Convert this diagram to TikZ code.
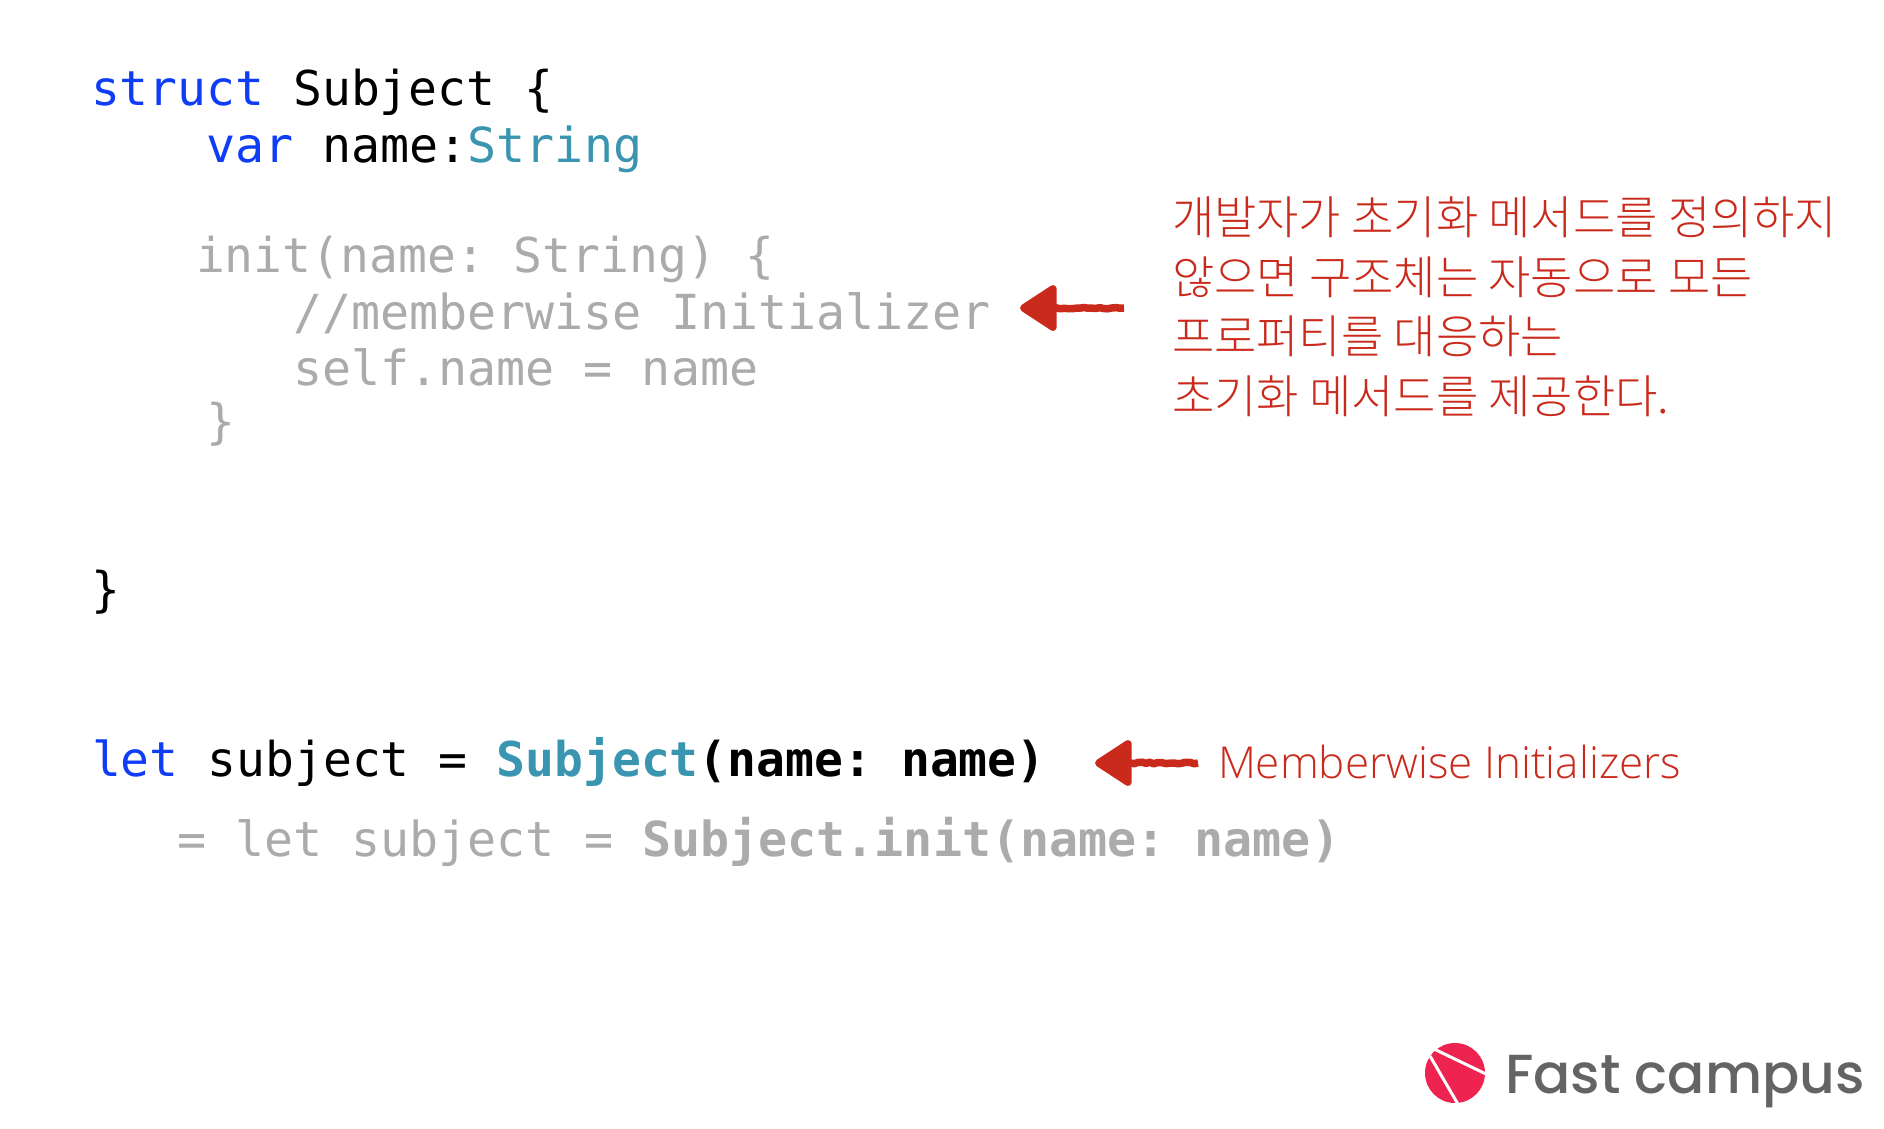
\documentclass[tikz,border=0pt]{standalone}
\usepackage{fontspec}
\usetikzlibrary{arrows.meta,decorations.pathmorphing}
\setmainfont{DejaVu Sans Mono}
\frenchspacing
\newfontfamily\krfont{Noto Sans CJK KR Light}
\newfontfamily\enfont{Open Sans Light}
\newfontfamily\logofont{Poppins Medium}
\definecolor{kwblue}{HTML}{0F3DF5}
\definecolor{typeteal}{HTML}{3A95B0}
\definecolor{dimgray}{HTML}{ABABAB}
\definecolor{notered}{HTML}{C92A1C}
\definecolor{logored}{HTML}{EE2350}
\definecolor{logogray}{HTML}{636466}
\tikzset{
  code/.style={anchor=base west,inner sep=0pt,outer sep=0pt,font=\fontsize{48}{48}\selectfont,text=black},
  dim/.style={code,text=dimgray},
  wide/.style={font=\fontsize{48.3}{48}\selectfont},
  note/.style={anchor=base west,inner sep=0pt,outer sep=0pt,text=notered,font=\krfont\fontsize{46}{46}\selectfont},
  redarrow/.style={draw=notered,line width=7.5pt,line join=round,
    -{Triangle[length=40pt,width=50pt,fill=notered,round]},
    decorate,decoration={random steps,segment length=4pt,amplitude=0.8pt,post length=12pt}},
}
\pgfmathsetseed{7}
\begin{document}
\begin{tikzpicture}[x=1pt,y=-1pt]
\useasboundingbox (0,0) rectangle (1884,1128);
\node[code] (l1) at (91,105) {\textcolor{kwblue}{struct} Subject \{};
\node[code,wide] (l2) at (206,162) {\textcolor{kwblue}{var} name:\textcolor{typeteal}{String}};
\node[dim] (l3) at (196,272) {init(name: String) \{};
\node[dim,wide] (l4) at (293,329) {//memberwise Initializer};
\node[dim,wide] (l5) at (293,385) {self.name = name};
\node[dim] (l6) at (206,438) {\}};
\node[code] (l7) at (91,606) {\}};
\node[code] (l8) at (92,776) {\textcolor{kwblue}{let} subject = \textcolor{typeteal}{\bfseries Subject}{\bfseries(name: name)}};
\node[dim,wide] (l9) at (177,856) {= let subject = {\bfseries Subject.init(name: name)}};
\node[note] (n1) at (1172,234) {개발자가 초기화 메서드를 정의하지};
\node[note] (n2) at (1172,294) {않으면 구조체는 자동으로 모든};
\node[note] (n3) at (1172,353) {프로퍼티를 대응하는};
\node[note] (n4) at (1172,413) {초기화 메서드를 제공한다.};
\node[note,font=\enfont\fontsize{44}{44}\selectfont] (n5) at (1218,778) {Memberwise Initializers};
\coordinate (a1t) at (1124,308);
\coordinate (a1h) at (1020,308);
\coordinate (a2t) at (1198,763);
\coordinate (a2h) at (1095,763);
\draw[redarrow] (a1t) -- (a1h);
\draw[redarrow] (a2t) -- (a2h);
\fill[logored] (1455,1073) circle (30);
\draw[white,line width=3pt] (1434,1049) -- (1486,1074);
\draw[white,line width=3pt] (1430,1056) -- (1459,1106);
\node[anchor=base west,inner sep=0pt,text=logogray,font=\logofont\fontsize{55}{55}\selectfont] (logo) at (1505,1093) {Fast campus};
\end{tikzpicture}
\end{document}
